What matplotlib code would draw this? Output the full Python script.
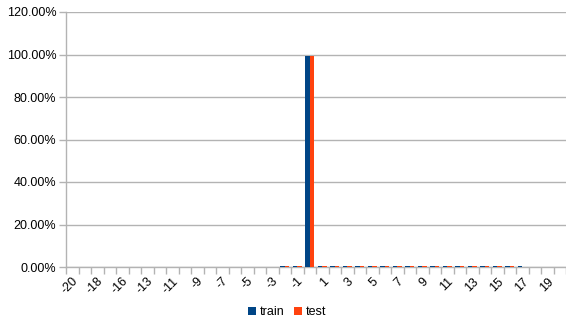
import numpy as np
import matplotlib.pyplot as plt
from matplotlib.ticker import PercentFormatter

# error values per bucket (note: -14 never occurs in the data)
categories = [-20, -19, -18, -17, -16, -15, -13, -12, -11, -10, -9, -8, -7, -6, -5,
              -4, -3, -2, -1, 0, 1, 2, 3, 4, 5, 6, 7, 8, 9, 10, 11, 12, 13, 14, 15,
              16, 17, 18, 19, 20]

# share of samples per bucket, in percent
train = [0, 0, 0, 0, 0, 0, 0, 0, 0, 0, 0, 0, 0, 0, 0,
         0, 0, 0.4, 0.4, 99.3, 0.4, 0.4, 0.4, 0.4, 0.4, 0.4, 0.4, 0.4, 0.4, 0.4,
         0.4, 0.4, 0.4, 0.4, 0.4, 0.4, 0.4, 0, 0, 0]
test = [0, 0, 0, 0, 0, 0, 0, 0, 0, 0, 0, 0, 0, 0, 0,
        0, 0, 0.4, 0.4, 99.3, 0.4, 0.4, 0.4, 0.4, 0.4, 0.4, 0.4, 0.4, 0.4, 0.4,
        0.4, 0.4, 0.4, 0.4, 0.4, 0.4, 0, 0, 0, 0]

plt.rcParams["font.family"] = ["Liberation Sans", "DejaVu Sans"]
plt.rcParams["font.size"] = 9

fig = plt.figure(figsize=(5.66, 3.22), dpi=100)
ax = fig.add_axes([66 / 566, 1 - 267 / 322, 500 / 566, 255 / 322])

x = np.arange(len(categories))
w = 0.345
ax.bar(x - w / 2, train, width=w, color="#004586", label="train", zorder=3)
ax.bar(x + w / 2, test, width=w, color="#ff420e", label="test", zorder=3)

ax.set_xlim(-0.5, len(categories) - 0.5)
ax.set_ylim(0, 120)
ax.set_yticks(np.arange(0, 121, 20))
ax.yaxis.set_major_formatter(PercentFormatter(decimals=2))
ax.yaxis.grid(True, color="#b3b3b3", linewidth=1, zorder=0)

# labels on every second bucket, tick marks on bucket boundaries
ax.set_xticks(x[::2])
ax.set_xticklabels([str(c) for c in categories[::2]], rotation=45, ha="right",
                   va="top", rotation_mode="anchor")
ax.set_xticks(np.arange(len(categories) + 1) - 0.5, minor=True)
ax.tick_params(axis="x", which="major", length=0, pad=6)
ax.tick_params(axis="x", which="minor", length=5, color="#b3b3b3", width=1)
ax.tick_params(axis="y", length=5, color="#b3b3b3", width=1, pad=2)

for side in ("top", "right"):
    ax.spines[side].set_visible(False)
for side in ("left", "bottom"):
    ax.spines[side].set_color("#b3b3b3")
    ax.spines[side].set_linewidth(1)

fig.legend(loc="center", bbox_to_anchor=(287 / 566, 1 - 312 / 322), ncol=2,
           frameon=False, handlelength=0.6, handleheight=0.6, handletextpad=0.3,
           columnspacing=0.8, borderpad=0)

fig.savefig("out.png", dpi=100)
